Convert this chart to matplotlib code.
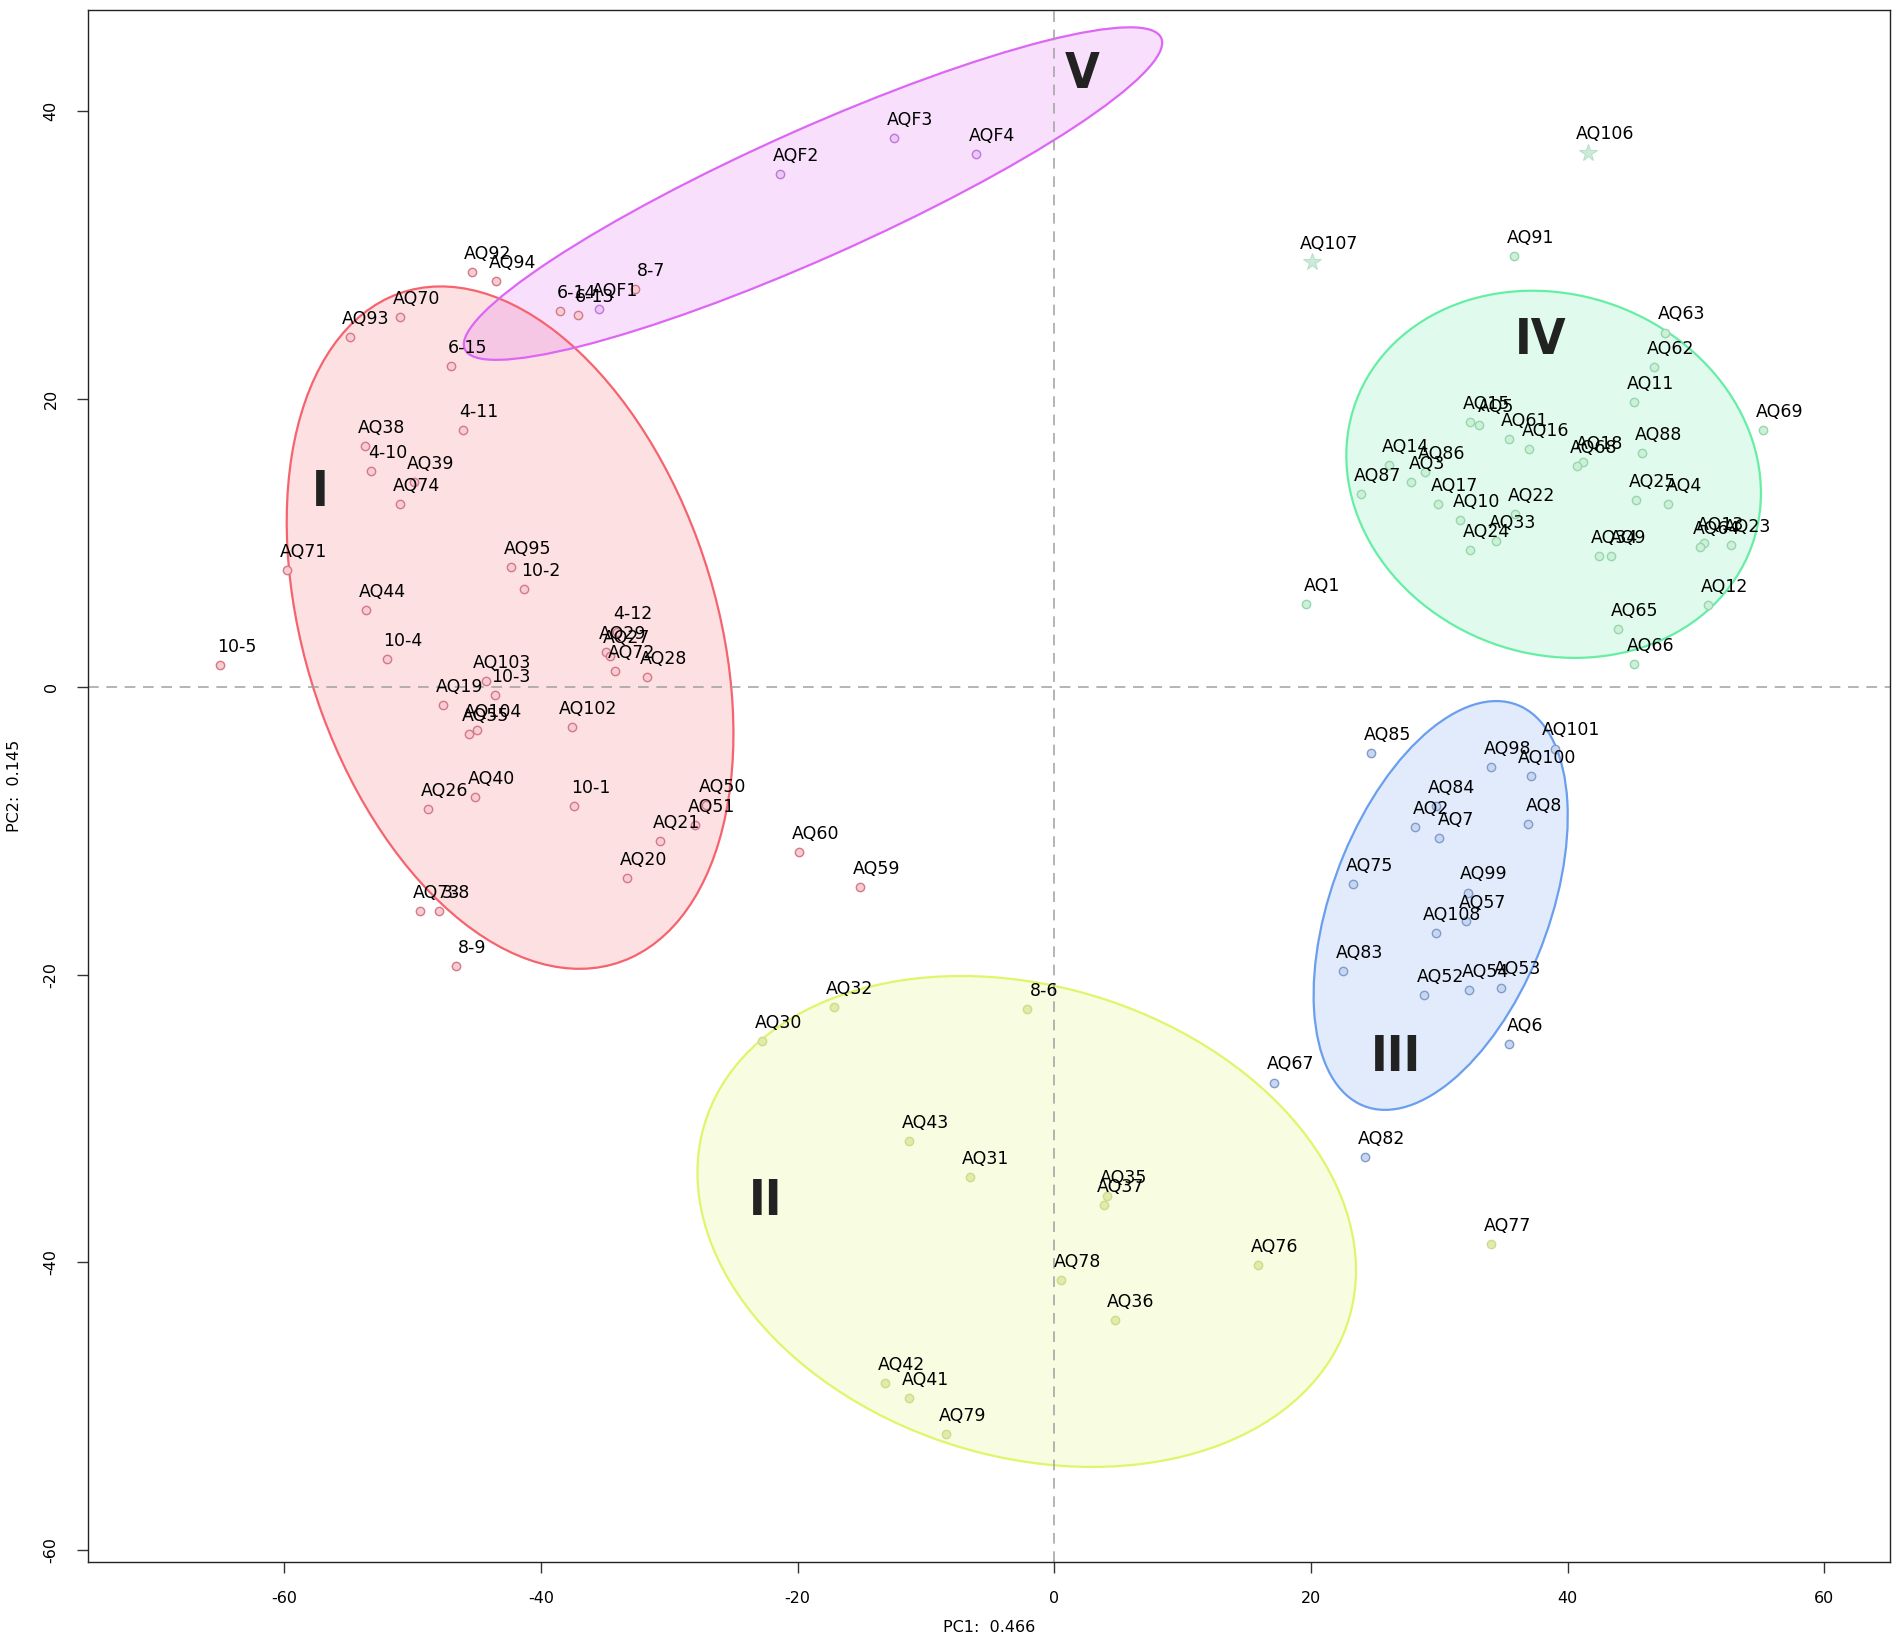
import numpy as np
import matplotlib.pyplot as plt
from matplotlib.patches import Ellipse

plt.rcParams['axes.unicode_minus'] = False

# PCA scores, one block per cluster
red_names = ['AQ92', 'AQ94', 'AQ70', 'AQ93', '6-15', '6-14', '6-13', '8-7', '4-11', 'AQ38',
             '4-10', 'AQ39', 'AQ74', 'AQ71', 'AQ95', '10-2', 'AQ44', '10-5', '10-4', '4-12',
             'AQ29', 'AQ27', 'AQ72', 'AQ28', 'AQ103', '10-3', 'AQ19', 'AQ104', 'AQ55', 'AQ102',
             'AQ26', 'AQ40', '10-1', 'AQ50', 'AQ51', 'AQ21', 'AQ20', 'AQ73', '3-8', '8-9',
             'AQ60', 'AQ59']
red_x = [-45.4, -43.5, -51.0, -54.9, -47.0, -38.5, -37.1, -32.7, -46.1, -53.7,
         -53.2, -49.9, -51.0, -59.8, -42.3, -41.3, -53.6, -65.0, -52.0, -34.1,
         -34.9, -34.6, -34.2, -31.7, -44.3, -43.6, -47.6, -45.0, -45.6, -37.6,
         -48.8, -45.1, -37.4, -27.1, -28.0, -30.7, -33.3, -49.4, -47.9, -46.6,
         -19.9, -15.1]
red_y = [28.8, 28.2, 25.7, 24.3, 22.3, 26.1, 25.8, 27.6, 17.8, 16.7,
         15.0, 14.2, 12.7, 8.1, 8.3, 6.8, 5.3, 1.5, 1.9, 3.8,
         2.4, 2.1, 1.1, 0.7, 0.4, -0.6, -1.25, -3.0, -3.3, -2.8,
         -8.5, -7.7, -8.3, -8.2, -9.6, -10.7, -13.3, -15.6, -15.6, -19.4,
         -11.5, -13.9]

purple_names = ['AQF1', 'AQF2', 'AQF3', 'AQF4']
purple_x = [-35.5, -21.4, -12.5, -6.1]
purple_y = [26.2, 35.6, 38.1, 37.0]

green_names = ['AQ63', 'AQ62', 'AQ11', 'AQ69', 'AQ15', 'AQ5', 'AQ61', 'AQ16', 'AQ18', 'AQ68',
               'AQ88', 'AQ14', 'AQ86', 'AQ3', 'AQ87', 'AQ17', 'AQ10', 'AQ22', 'AQ33', 'AQ24',
               'AQ34', 'AQ9', 'AQ25', 'AQ4', 'AQ13', 'AQ64', 'AQ23', 'AQ12', 'AQ65', 'AQ66',
               'AQ1', 'AQ91']
green_x = [47.6, 46.7, 45.2, 55.2, 32.4, 33.1, 35.4, 37.0, 41.2, 40.7,
           45.8, 26.1, 28.9, 27.8, 23.9, 29.9, 31.6, 35.9, 34.4, 32.4,
           42.4, 43.4, 45.3, 47.8, 50.6, 50.3, 52.7, 50.9, 43.9, 45.2,
           19.6, 35.8]
green_y = [24.6, 22.2, 19.8, 17.85, 18.4, 18.2, 17.2, 16.5, 15.6, 15.3,
           16.2, 15.4, 14.9, 14.2, 13.4, 12.7, 11.6, 12.0, 10.1, 9.46,
           9.06, 9.06, 12.96, 12.7, 9.99, 9.71, 9.87, 5.7, 4.03, 1.55,
           5.73, 29.9]

star_names = ['AQ106', 'AQ107']
star_x = [41.6, 20.1]
star_y = [37.1, 29.5]

blue_names = ['AQ85', 'AQ101', 'AQ98', 'AQ100', 'AQ84', 'AQ2', 'AQ7', 'AQ8', 'AQ75', 'AQ99',
              'AQ57', 'AQ108', 'AQ83', 'AQ52', 'AQ54', 'AQ53', 'AQ6', 'AQ67', 'AQ82']
blue_x = [24.7, 39.0, 34.0, 37.1, 29.7, 28.1, 30.0, 36.9, 23.3, 32.2,
          32.1, 29.7, 22.5, 28.8, 32.3, 34.8, 35.4, 17.15, 24.2]
blue_y = [-4.6, -4.3, -5.6, -6.2, -8.3, -9.76, -10.5, -9.55, -13.7, -14.3,
          -16.25, -17.1, -19.75, -21.4, -21.1, -20.9, -24.8, -27.5, -32.7]

yellow_names = ['AQ32', 'AQ30', '8-6', 'AQ43', 'AQ31', 'AQ35', 'AQ37', 'AQ78', 'AQ36', 'AQ76',
                'AQ77', 'AQ42', 'AQ41', 'AQ79']
yellow_x = [-17.2, -22.8, -2.1, -11.3, -6.6, 4.1, 3.86, 0.55, 4.7, 15.9,
            34.0, -13.2, -11.3, -8.4]
yellow_y = [-22.25, -24.6, -22.4, -31.55, -34.05, -35.4, -36.0, -41.2, -44.0, -40.2,
            -38.7, -48.4, -49.4, -51.9]

# cluster ellipses: centre and covariance-like shape matrix
ell_labels = ['I', 'V', 'IV', 'III', 'II']
ell_cx = [-42.4, -18.8, 38.9, 30.1, -2.15]
ell_cy = [4.1, 34.25, 14.75, -15.2, -37.15]
ell_sxx = [302.8, 740.0, 260.8, 98.0, 658.0]
ell_syy = [561.7, 133.4, 162.6, 201.6, 290.7]
ell_sxy = [-128.0, 285.0, -21.0, 61.5, -87.0]
roman_x = [-57.2, 2.2, 37.9, 26.6, -22.5]
roman_y = [13.8, 42.9, 24.4, -25.4, -35.4]

edge_cols = ['#F5646E', '#DD66F5', '#66EEA5', '#6A9EEE', '#E0F56A']
pt_face = {'red': '#F5CDD2', 'purple': '#EBC8F5', 'green': '#CDF0D7',
           'blue': '#C8D7F0', 'yellow': '#E1EBAA'}
pt_edge = {'red': '#D7788A', 'purple': '#BE78DC', 'green': '#96D7AF',
           'blue': '#829BCD', 'yellow': '#CDDC8C'}

fig = plt.figure(figsize=(19, 16.45), dpi=100)
ax = fig.add_axes([0.0462, 0.0505, 0.9485, 0.9434])

for i in range(len(ell_labels)):
    S = np.array([[ell_sxx[i], ell_sxy[i]], [ell_sxy[i], ell_syy[i]]])
    vals, vecs = np.linalg.eigh(S)
    ang = np.degrees(np.arctan2(vecs[1, 1], vecs[0, 1]))
    ax.add_patch(Ellipse((ell_cx[i], ell_cy[i]), 2 * np.sqrt(vals[1]), 2 * np.sqrt(vals[0]),
                         angle=ang, facecolor=edge_cols[i], alpha=0.2, edgecolor='none', zorder=1))
    ax.add_patch(Ellipse((ell_cx[i], ell_cy[i]), 2 * np.sqrt(vals[1]), 2 * np.sqrt(vals[0]),
                         angle=ang, facecolor='none', edgecolor=edge_cols[i], lw=1.6, zorder=2))

ax.axhline(0, color='#A0A0A0', lw=1.1, ls=(0, (7, 5)), zorder=2.5)
ax.axvline(0, color='#A0A0A0', lw=1.1, ls=(0, (7, 5)), zorder=2.5)

groups = [('red', red_names, red_x, red_y), ('purple', purple_names, purple_x, purple_y),
          ('green', green_names, green_x, green_y), ('blue', blue_names, blue_x, blue_y),
          ('yellow', yellow_names, yellow_x, yellow_y)]
for g, names, xs, ys in groups:
    ax.plot(xs, ys, 'o', ms=6, mfc=pt_face[g], mec=pt_edge[g], mew=1.0, zorder=3)
    for n, x, y in zip(names, xs, ys):
        ax.annotate(n, (x, y), xytext=(11.8, 9.4), textcoords='offset points',
                    ha='center', va='baseline', fontsize=12.5, color='black', zorder=4)

ax.plot(star_x, star_y, '*', ms=13, mfc='#CDEBD9', mec='#B9E1C8', mew=0.8, zorder=3)
for n, x, y in zip(star_names, star_x, star_y):
    ax.annotate(n, (x, y), xytext=(12.2, 9.4), textcoords='offset points',
                ha='center', va='baseline', fontsize=12.5, color='black', zorder=4)

for lab, x, y in zip(ell_labels, roman_x, roman_y):
    ax.annotate(lab, (x, y), xytext=(0, -13.3), textcoords='offset points',
                ha='center', va='baseline', fontsize=36, fontweight='bold',
                fontstretch='condensed', color='#222222', zorder=5)

ax.set_xlim(-75.3, 65.1)
ax.set_ylim(-60.8, 47.0)
ax.set_xticks([-60, -40, -20, 0, 20, 40, 60])
ax.set_yticks([-60, -40, -20, 0, 20, 40])
ax.tick_params(direction='out', length=8, width=1, pad=13, labelsize=11.5, color='#333333')
for t in ax.get_yticklabels():
    t.set_rotation(90)
    t.set_va('center')
for s in ax.spines.values():
    s.set_linewidth(1.0)
    s.set_color('#222222')

fig.text(0.5205, 0.0058, 'PC1:  0.466', ha='center', va='bottom', fontsize=11.5)
fig.text(0.0076, 0.522, 'PC2:  0.145', ha='center', va='center', rotation=90, fontsize=11.5)

fig.savefig('out.png', dpi=100)
